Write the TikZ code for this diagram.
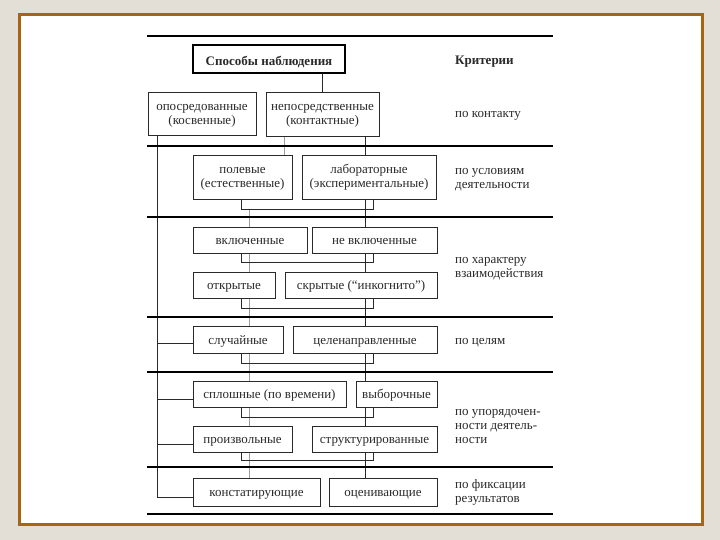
\documentclass[tikz,border=0pt]{standalone}
\usepackage{fontspec}
\setmainfont{Liberation Serif}
\usetikzlibrary{calc,backgrounds}
\definecolor{bgc}{HTML}{E3DFD7}
\definecolor{frm}{HTML}{A8650F}
\definecolor{ink}{HTML}{2A2A2A}
\definecolor{gline}{HTML}{9C9C9C}
\newcommand\ctab[1]{\begin{tabular}{@{}c@{}}\rule{0pt}{11.8pt}#1\end{tabular}}
\newcommand\ltab[1]{\begin{tabular}{@{}l@{}}\rule{0pt}{11.8pt}#1\end{tabular}}
\newcommand\bx[7][oneb]{\node[box,#1,minimum width={(#5-#3)*1pt},minimum height={(#6-#4)*1pt}] (#2) at ({(#3+#5)/2},{(#4+#6)/2}) {#7};}
\begin{document}
\begin{tikzpicture}[x=1pt,y=-1pt,
  txt/.style={font=\fontsize{13}{14}\selectfont,text=ink},
  one/.style={text height=6pt,text depth=0pt},
  oneb/.style={text height=9.5pt,text depth=0pt},
  multi/.style={},
  box/.style={txt,draw=ink,line width=0.8pt,fill=white,inner sep=0pt},
  conn/.style={draw=ink,line width=0.8pt},
  gconn/.style={draw=gline,line width=0.8pt},
  rulel/.style={draw=black,line width=2.2pt},
  crit/.style={txt,anchor=west,inner sep=0pt}]
\useasboundingbox (0,0) rectangle (720,540);

% boxes
\node[box,text height=13pt,text depth=0pt,draw=black,line width=2pt,minimum width=152pt,minimum height=28pt,font=\bfseries\fontsize{13}{14}\selectfont] (top) at (269,59) {Способы наблюдения};
\bx[multi]{opo}{148}{92}{256}{135}{\ctab{опосредованные\\(косвенные)}}
\bx[multi]{nep}{266}{92}{379}{136}{\ctab{непосредственные\\(контактные)}}
\bx[multi]{pol}{193}{155}{292}{199}{\ctab{полевые\\(естественные)}}
\bx[multi]{lab}{302}{155}{436}{199}{\ctab{лабораторные\\(экспериментальные)}}
\bx{vkl}{193}{227}{307}{253}{включенные}
\bx{nvkl}{312}{227}{437}{253}{не включенные}
\bx{otk}{193}{272}{275}{298}{открытые}
\bx{skr}{285}{272}{437}{298}{скрытые (``инкогнито'')}
\bx{slu}{193}{326}{283}{353}{случайные}
\bx{cel}{293}{326}{437}{353}{целенаправленные}
\bx{spl}{193}{381}{346}{407}{сплошные (по времени)}
\bx{vyb}{356}{381}{437}{407}{выборочные}
\bx{pro}{193}{426}{292}{452}{произвольные}
\bx{str}{312}{426}{437}{452}{структурированные}
\bx{kon}{193}{478}{320}{506}{констатирующие}
\bx{oce}{329}{478}{437}{506}{оценивающие}

% criteria column
\node[crit,one,font=\bfseries\fontsize{13}{14}\selectfont] (c0) at (455,62) {Критерии};
\node[crit,one] (c1) at (455,115) {по контакту};
\node[crit] (c2) at (455,178) {\ltab{по условиям\\деятельности}};
\node[crit] (c3) at (455,267) {\ltab{по характеру\\взаимодействия}};
\node[crit,one] (c4) at (455,341) {по целям};
\node[crit] (c5) at (455,426) {\ltab{по упорядочен-\\ности деятель-\\ности}};
\node[crit] (c6) at (455,492) {\ltab{по фиксации\\результатов}};

% horizontal rules
\foreach \yy in {36,146,217,317,372,467,514}
  \draw[rulel] (147,\yy) -- (553,\yy);

% helper coordinates
\coordinate (L) at (157,0);
\coordinate (D) at (365,0);
\coordinate (G) at (249,0);
\coordinate (G2) at (284,0);
\coordinate (BL) at (241,0);
\coordinate (BR) at (373,0);
\coordinate (bS) at ($(slu.west)+(0,4)$);
\coordinate (bSp) at ($(spl.west)+(0,5)$);
\coordinate (bP) at ($(pro.west)+(0,5)$);
\coordinate (bK) at ($(kon.west)+(0,5)$);

\begin{pgfonlayer}{background}
  \fill[bgc] (0,0) rectangle (720,540);
  \filldraw[fill=white,draw=frm,line width=3pt] (19.5,14.5) rectangle (702,524.5);
  % gray lines
  \draw[gconn] (nep.south -| G2) -- (pol.north -| G2);
  \coordinate (y0) at ($(pol.south)+(0,10)$);
  \draw[gconn] (y0 -| G) -- (kon.north -| G);
  % main links
  \draw[conn] (nep.north) -- (nep.north |- top.south);
  \draw[conn] (nep.south -| D) -- (oce.north -| D);
  \draw[conn] (opo.south -| L) |- (bK);
  \foreach \b in {bS,bSp,bP} \draw[conn] (\b -| L) -- (\b);
  % brackets
  \foreach \a/\c/\d in {pol/lab/10,vkl/nvkl/9,otk/skr/10,slu/cel/10,spl/vyb/10,pro/str/8}{
    \coordinate (yb) at ($(\a.south)+(0,\d)$);
    \draw[conn] (\a.south -| BL) |- (yb -| BR) -- (\c.south -| BR);
  }
\end{pgfonlayer}
\end{tikzpicture}
\end{document}
